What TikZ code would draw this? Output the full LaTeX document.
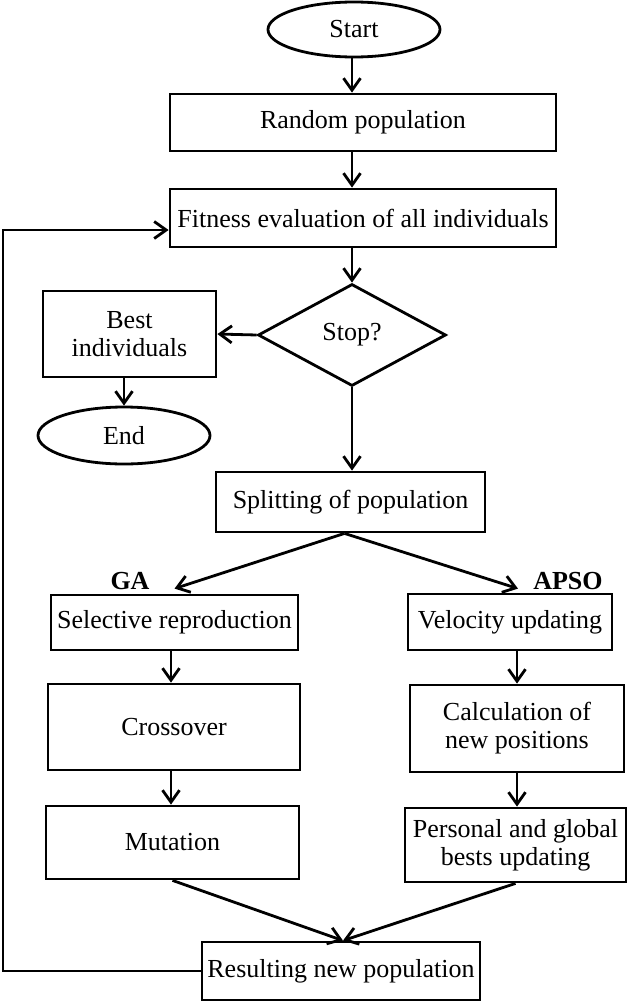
\documentclass[tikz,border=0pt]{standalone}
\usepackage{fontspec}
\setmainfont{Liberation Serif}
\usetikzlibrary{shapes.geometric,arrows.meta}
\begin{document}
\begin{tikzpicture}[x=0.5pt,y=-0.5pt,
 every node/.style={font=\fontsize{13}{14}\selectfont},
 box/.style={draw,line width=1.4pt,rectangle,inner sep=0pt,align=center},
 term/.style={draw,line width=1.4pt,ellipse,inner sep=0pt},
 dec/.style={draw,line width=1.4pt,diamond,inner sep=0pt},
 arr/.style={line width=1.4pt,-{Straight Barb[length=6pt,width=8.5pt]}},
 lab/.style={font=\bfseries\fontsize{13}{14}\selectfont}]
\useasboundingbox (0,0) rectangle (628,1001);
\node[term,minimum width=86pt,minimum height=27.5pt] (start) at (354,29.5) {Start};
\node[box,minimum width=193pt,minimum height=28.5pt] (rand) at (363,122.5) {Random population};
\node[box,minimum width=193pt,minimum height=29pt] (fit) at (363,218) {Fitness evaluation of all individuals};
\node[dec,minimum width=94pt,minimum height=51pt] (stop) at (352,335) {Stop?};
\node[box,minimum width=86.5pt,minimum height=43pt] (best) at (129.5,334) {Best\\individuals};
\node[term,minimum width=86pt,minimum height=28.5pt] (end) at (124,435.5) {End};
\node[box,minimum width=134.5pt,minimum height=30pt] (split) at (350.5,502) {Splitting of population};
\node[box,minimum width=123.5pt,minimum height=27.5pt] (sel) at (174.5,622.5) {Selective reproduction};
\node[box,minimum width=126pt,minimum height=43pt] (cross) at (174,727) {Crossover};
\node[box,minimum width=126.5pt,minimum height=36.5pt] (mut) at (172.5,842.5) {Mutation};
\node[box,minimum width=102pt,minimum height=28pt] (vel) at (510,622) {Velocity updating};
\node[box,minimum width=107pt,minimum height=43.5pt] (calc) at (517,728.5) {Calculation of\\new positions};
\node[box,minimum width=110.5pt,minimum height=37pt] (pers) at (515.5,845) {Personal and global\\bests updating};
\node[box,minimum width=139pt,minimum height=29pt] (res) at (341,971) {Resulting new population};
\node[lab] (ga) at (130,581) {GA};
\node[lab] (apso) at (568,581) {APSO};
\coordinate (fbx) at (3,600);
\coordinate (gx) at (171,0);
\draw[arr] (start.south -| stop.north) -- (stop.north |- rand.north);
\draw[arr] (stop.north |- rand.south) -- (stop.north |- fit.north);
\draw[arr] (stop.north |- fit.south) -- (stop.north);
\draw[arr] (stop.west) -- (best.east);
\draw[arr] (best.south -| end.north) -- (end.north);
\draw[arr] (stop.south) -- (stop.south |- split.north);
\draw[arr] ([xshift=-3pt]split.south) -- ([yshift=2.5pt]sel.north);
\draw[arr] ([xshift=-3pt]split.south) -- ([xshift=4pt,yshift=2pt]vel.north);
\draw[arr] (sel.south -| gx) -- (gx |- cross.north);
\draw[arr] (cross.south -| gx) -- (gx |- mut.north);
\draw[arr] (vel.south -| calc.north) -- (calc.north);
\draw[arr] (calc.south) -- (calc.south |- pers.north);
\draw[arr] (mut.south) -- ([xshift=1pt]res.north);
\draw[arr] (pers.south) -- ([xshift=1pt]res.north);
\draw[arr] (res.west) -| (fbx) |- ([yshift=-6pt]fit.west);
\end{tikzpicture}
\end{document}
